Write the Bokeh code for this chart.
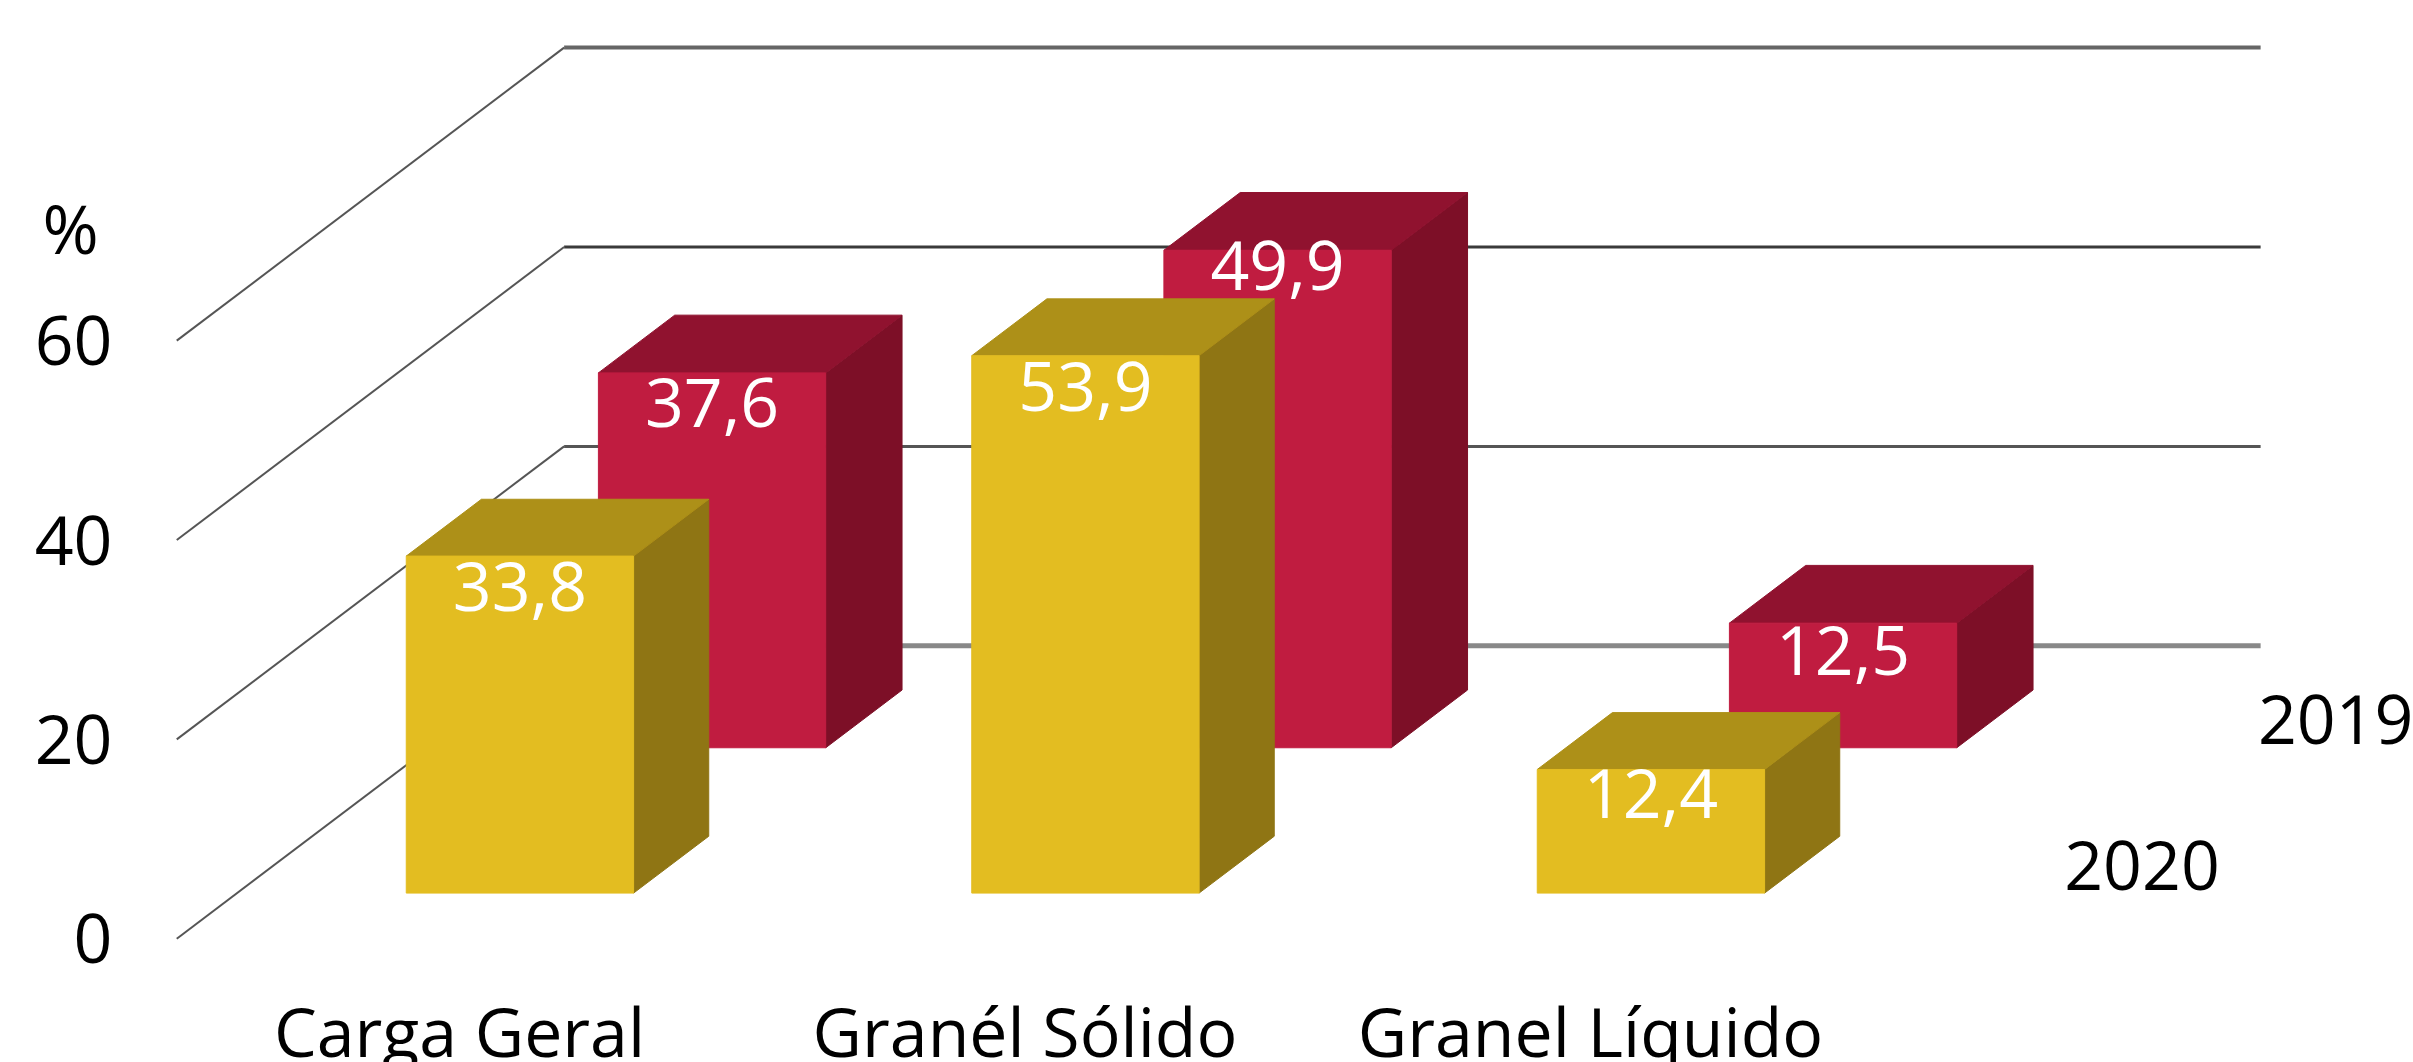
from bokeh.plotting import figure
from bokeh.models import Range1d, FixedTicker
from bokeh.core.properties import value
from bokeh.embed import file_html
from bokeh.resources import INLINE

# ---- data
categories = ["Carga Geral", "Granél Sólido", "Granel Líquido"]
values_2019 = [37.6, 49.9, 12.5]
values_2020 = [33.8, 53.9, 12.4]
labels_2019 = ["37,6", "49,9", "12,5"]
labels_2020 = ["33,8", "53,9", "12,4"]
series_names = ["2019", "2020"]
y_ticks = [0, 20, 40, 60]

# ---- page geometry (px) and oblique projection
PX_PER_CAT = 565.5
PX_PER_UNIT = 9.97
CAT0_PX = 459.0
ZERO_PX = 938.3
W, H = 2413, 1062
DX = 0.685      # category units per full depth
DY = 29.39      # value units per full depth
BAR_W = 0.402
FONT = "Open Sans"
SIZE = "68px"

def px_x(px):
    return (px - CAT0_PX) / PX_PER_CAT

def px_y(px):
    return (ZERO_PX - px) / PX_PER_UNIT

p = figure(width=W, height=H, output_backend="svg", toolbar_location=None,
           x_range=Range1d(px_x(0), px_x(W)),
           y_range=Range1d(px_y(H), px_y(0)),
           min_border_left=0, min_border_right=0, min_border_top=0, min_border_bottom=0)
p.outline_line_color = None
p.background_fill_color = "white"
p.border_fill_color = "white"
p.grid.visible = False

for ax, ticks in ((p.yaxis[0], y_ticks), (p.xaxis[0], [0, 1, 2])):
    ax.ticker = FixedTicker(ticks=ticks)
    ax.axis_line_color = None
    ax.major_tick_line_color = None
    ax.minor_tick_line_color = None
    ax.major_tick_in = 0
    ax.major_tick_out = 0
    ax.major_label_text_font = FONT
    ax.major_label_text_font_size = SIZE
    ax.major_label_text_color = "black"
    ax.major_label_standoff = 4
p.yaxis[0].fixed_location = px_x(116)
p.xaxis[0].fixed_location = px_y(979)
p.xaxis[0].major_label_overrides = {i: c for i, c in enumerate(categories)}

# ---- back wall and left wall grid
X_L, X_R = -0.5, 2.5
grid_styles = {0: ("#888888", 5), 20: ("#555555", 3), 40: ("#3a3a3a", 3), 60: ("#666666", 4)}
for t in y_ticks:
    col, w = grid_styles[t]
    p.line([X_L + DX, X_R + DX], [t + DY, t + DY], line_color=col, line_width=w)
    p.line([X_L, X_L + DX], [t, t + DY], line_color="#555555", line_width=2)

def draw_series(vals, labels, d0, d1, front, top, side, offsets):
    for i, v in enumerate(vals):
        x0 = i - BAR_W / 2
        x1 = i + BAR_W / 2
        fx0, fx1 = x0 + d0 * DX, x1 + d0 * DX
        bx0, bx1 = x0 + d1 * DX, x1 + d1 * DX
        fy0, fy1 = d0 * DY, v + d0 * DY
        by0, by1 = d1 * DY, v + d1 * DY
        p.patch([fx1, bx1, bx1, fx1], [fy0, by0, by1, fy1], fill_color=side, line_color=side, line_width=1)
        p.patch([fx0, fx1, bx1, bx0], [fy1, fy1, by1, by1], fill_color=top, line_color=top, line_width=1)
        p.patch([fx0, fx1, fx1, fx0], [fy0, fy0, fy1, fy1], fill_color=front, line_color=front, line_width=1)
        p.text([(fx0 + fx1) / 2], [fy1], text=[labels[i]], y_offset=[offsets[i]],
               text_font=value(FONT), text_font_size=value(SIZE), text_color="white",
               text_align="center", text_baseline="middle")

draw_series(values_2019, labels_2019, 0.652, 0.849, "#C01C40", "#90122F", "#7D0F27", [30, 15, 27])
draw_series(values_2020, labels_2020, 0.156, 0.350, "#E3BD21", "#AD9018", "#8F7514", [30, 31, 24])

# ---- series depth labels
SERIES_X = 2.804
for name, d in zip(series_names, (0.75, 0.25)):
    p.text([SERIES_X + d * DX], [d * DY], text=[name],
           text_font=value(FONT), text_font_size=value(SIZE), text_color="black",
           text_align="center", text_baseline="middle")

p.text([px_x(70)], [px_y(227)], text=["%"], text_font=value(FONT), text_font_size=value(SIZE),
       text_color="black", text_align="center", text_baseline="middle")

open("out.html", "w").write(file_html(p, INLINE))
